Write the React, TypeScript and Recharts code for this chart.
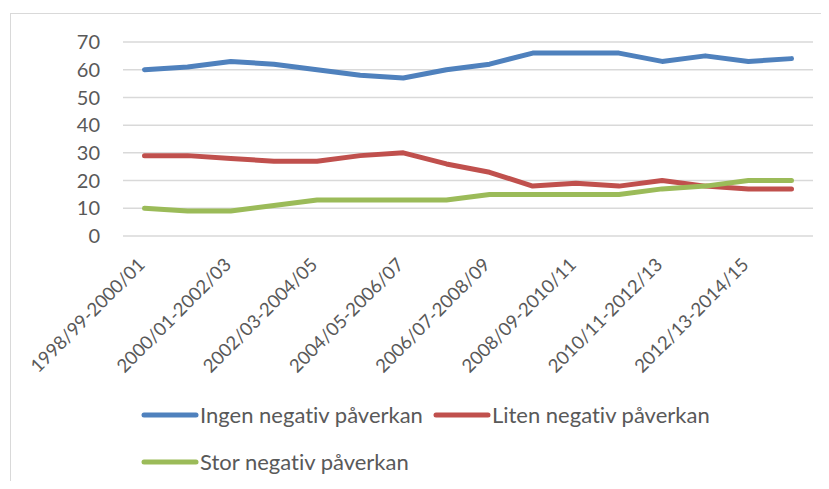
import React from "react";
import { LineChart, Line, XAxis, YAxis, CartesianGrid } from "recharts";

const periods = [
  "1998/99-2000/01",
  "1999/00-2001/02",
  "2000/01-2002/03",
  "2001/02-2003/04",
  "2002/03-2004/05",
  "2003/04-2005/06",
  "2004/05-2006/07",
  "2005/06-2007/08",
  "2006/07-2008/09",
  "2007/08-2009/10",
  "2008/09-2010/11",
  "2009/10-2011/12",
  "2010/11-2012/13",
  "2011/12-2013/14",
  "2012/13-2014/15",
  "2013/14-2015/16",
];

const ingen = [60, 61, 63, 62, 60, 58, 57, 60, 62, 66, 66, 66, 63, 65, 63, 64];
const liten = [29, 29, 28, 27, 27, 29, 30, 26, 23, 18, 19, 18, 20, 18, 17, 17];
const stor = [10, 9, 9, 11, 13, 13, 13, 13, 15, 15, 15, 15, 17, 18, 20, 20];

const yTicks = [0, 10, 20, 30, 40, 50, 60, 70];

const series = [
  { key: "ingen", name: "Ingen negativ påverkan", color: "#4f81bd" },
  { key: "liten", name: "Liten negativ påverkan", color: "#c0504d" },
  { key: "stor", name: "Stor negativ påverkan", color: "#9bbb59" },
];

const data = periods.map((p, i) => ({
  period: p,
  ingen: ingen[i],
  liten: liten[i],
  stor: stor[i],
}));

const FONT = "Lato, 'Open Sans', sans-serif";
const TEXT = "#595959";

// rotated category label, end of text sits just below the tick
const XTick = (props: any) => {
  const { x, y, payload } = props;
  return (
    <g transform={`translate(${x + 1.5},${y + 30}) rotate(-45)`}>
      <text x={0} y={0} textAnchor="end" fill={TEXT} fontSize={18.5} fontFamily={FONT}>
        {payload.value}
      </text>
    </g>
  );
};

export default function App() {
  return (
    <div style={{ position: "relative", width: 829, height: 489, margin: -8, overflow: "hidden", background: "#fff" }}>
      <div
        style={{
          position: "absolute",
          left: 10,
          top: 13,
          width: 900,
          height: 600,
          borderTop: "1.5px solid #d9d9d9",
          borderLeft: "1.5px solid #d9d9d9",
        }}
      />
      <div style={{ position: "absolute", left: 0, top: 0 }}>
        <LineChart
          width={829}
          height={489}
          data={data}
          margin={{ top: 42, right: 16, left: 63, bottom: 193 }}
        >
          <CartesianGrid vertical={false} stroke="#d9d9d9" strokeWidth={1.5} />
          <XAxis
            dataKey="period"
            interval={1}
            axisLine={false}
            tickLine={false}
            tickSize={0}
            tickMargin={0}
            height={60}
            padding={{ left: 21.5, right: 21.5 }}
            tick={<XTick />}
          />
          <YAxis
            domain={[0, 70]}
            ticks={yTicks}
            interval={0}
            width={60}
            axisLine={false}
            tickLine={false}
            tickSize={0}
            tickMargin={23}
            tick={{ fill: TEXT, fontSize: 20, fontFamily: FONT }}
          />
          {series.map((s) => (
            <Line
              key={s.key}
              type="linear"
              dataKey={s.key}
              name={s.name}
              stroke={s.color}
              strokeWidth={5}
              strokeLinecap="round"
              strokeLinejoin="round"
              dot={false}
              activeDot={false}
              isAnimationActive={false}
            />
          ))}
        </LineChart>
      </div>
      {/* legend, Excel style: long line swatch then label */}
      <div
        style={{
          position: "absolute",
          left: 141,
          top: 399,
          width: 620,
          display: "flex",
          flexWrap: "wrap",
          rowGap: 16,
          columnGap: 10,
          fontFamily: FONT,
          fontSize: 22,
          fontVariantLigatures: "none",
          color: TEXT,
        }}
      >
        {series.map((s) => (
          <div key={s.key} style={{ display: "flex", alignItems: "center", height: 31 }}>
            <svg width={59} height={8}>
              <line x1={3} y1={4} x2={55} y2={4} stroke={s.color} strokeWidth={5} strokeLinecap="round" />
            </svg>
            <span>{s.name}</span>
          </div>
        ))}
      </div>
    </div>
  );
}
